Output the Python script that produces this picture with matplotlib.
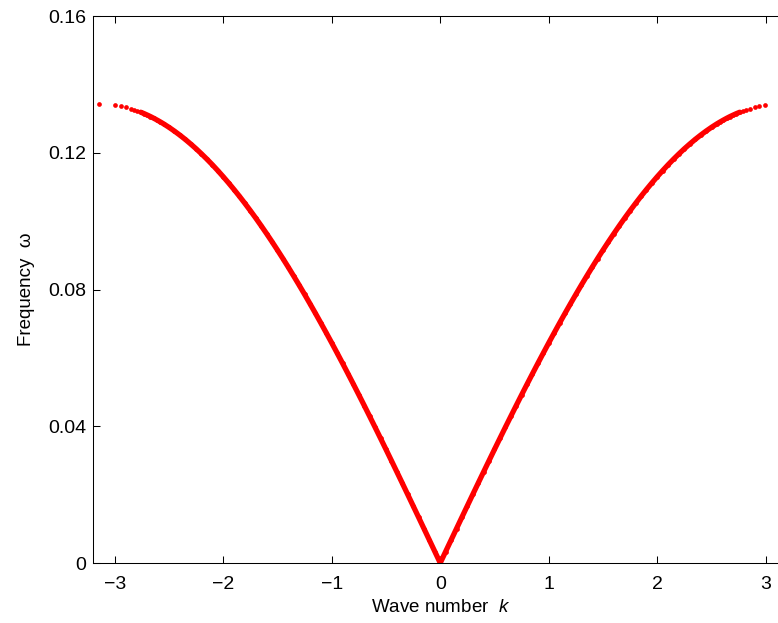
import matplotlib
matplotlib.use("Agg")
import matplotlib.pyplot as plt

plt.rcParams["font.family"] = ["Liberation Sans", "DejaVu Sans"]
plt.rcParams["mathtext.fontset"] = "custom"
plt.rcParams["mathtext.it"] = "Liberation Sans:italic"
plt.rcParams["mathtext.rm"] = "Liberation Sans"

# dispersion points (negative k side, ascending)
k_left = [-3.1416, -2.997, -2.942, -2.896, -2.851, -2.82, -2.79, -2.76, -2.73, -2.70,
          -2.67, -2.64, -2.61, -2.58, -2.55, -2.50, -2.45, -2.40, -2.35, -2.30,
          -2.25, -2.20, -2.15, -2.10, -2.05, -2.00, -1.95, -1.90, -1.85, -1.80,
          -1.75, -1.70, -1.65, -1.60, -1.55, -1.50, -1.45, -1.40, -1.35, -1.30,
          -1.25, -1.20, -1.15, -1.10, -1.05, -1.00, -0.95, -0.90, -0.85, -0.80,
          -0.75, -0.70, -0.65, -0.60, -0.55, -0.50, -0.45, -0.40, -0.35, -0.30,
          -0.25, -0.20, -0.15, -0.10, -0.05]
w_left = [0.1343, 0.13395, 0.13364, 0.13330, 0.13289, 0.13257, 0.13223, 0.13186, 0.13147, 0.13104,
          0.13059, 0.13010, 0.12958, 0.12904, 0.12847, 0.12745, 0.12635, 0.12517, 0.12392, 0.12258,
          0.12118, 0.11969, 0.11813, 0.11650, 0.11479, 0.11301, 0.11116, 0.10924, 0.10726, 0.10520,
          0.10308, 0.10090, 0.09865, 0.09634, 0.09397, 0.09154, 0.08906, 0.08652, 0.08392, 0.08128,
          0.07858, 0.07583, 0.07304, 0.07020, 0.06731, 0.06439, 0.06142, 0.05842, 0.05537, 0.05230,
          0.04919, 0.04605, 0.04288, 0.03969, 0.03647, 0.03323, 0.02996, 0.02668, 0.02338, 0.02007,
          0.01674, 0.01341, 0.01006, 0.00671, 0.00336]

# k >= 0 side, ascending
k_right = [0.0, 0.05, 0.10, 0.15, 0.20, 0.25, 0.30, 0.35, 0.40, 0.45,
           0.50, 0.55, 0.60, 0.65, 0.70, 0.75, 0.80, 0.85, 0.90, 0.95,
           1.00, 1.05, 1.10, 1.15, 1.20, 1.25, 1.30, 1.35, 1.40, 1.45,
           1.50, 1.55, 1.60, 1.65, 1.70, 1.75, 1.80, 1.85, 1.90, 1.95,
           2.00, 2.05, 2.10, 2.15, 2.20, 2.25, 2.30, 2.35, 2.40, 2.45,
           2.50, 2.55, 2.58, 2.61, 2.64, 2.67, 2.70, 2.73, 2.76, 2.79,
           2.82, 2.851, 2.896, 2.942, 2.997]
w_right = [0.0, 0.00336, 0.00671, 0.01006, 0.01341, 0.01674, 0.02007, 0.02338, 0.02668, 0.02996,
           0.03323, 0.03647, 0.03969, 0.04288, 0.04605, 0.04919, 0.05230, 0.05537, 0.05842, 0.06142,
           0.06439, 0.06731, 0.07020, 0.07304, 0.07583, 0.07858, 0.08128, 0.08392, 0.08652, 0.08906,
           0.09154, 0.09397, 0.09634, 0.09865, 0.10090, 0.10308, 0.10520, 0.10726, 0.10924, 0.11116,
           0.11301, 0.11479, 0.11650, 0.11813, 0.11969, 0.12118, 0.12258, 0.12392, 0.12517, 0.12635,
           0.12745, 0.12847, 0.12904, 0.12958, 0.13010, 0.13059, 0.13104, 0.13147, 0.13186, 0.13223,
           0.13257, 0.13289, 0.13330, 0.13364, 0.13395]

k_all = k_left + k_right
w_all = w_left + w_right

fig = plt.figure(figsize=(7.78, 6.23), dpi=100)
ax = fig.add_axes([0.1195, 0.0963, 0.8927, 0.878])

# dense middle part reads as a solid band of dots
inner = [i for i, k in enumerate(k_all) if abs(k) <= 2.76]
ax.plot([k_all[i] for i in inner], [w_all[i] for i in inner], "-", color="red", lw=3.8,
        solid_capstyle="round")
ax.plot(k_all, w_all, "o", color="red", ms=3.4, mec="none")

ax.set_xlim(-3.2, 3.2)
ax.set_ylim(0, 0.16)
ax.set_xticks([-3, -2, -1, 0, 1, 2, 3])
ax.set_yticks([0, 0.04, 0.08, 0.12, 0.16])
ax.set_yticklabels(["0", "0.04", "0.08", "0.12", "0.16"])
ax.tick_params(direction="in", length=5, width=0.75, top=True, right=True,
               labelsize=14, colors="black")
ax.tick_params(axis="x", pad=9)
ax.tick_params(axis="y", pad=5)
for s in ax.spines.values():
    s.set_linewidth(0.75)

ax.set_xlabel("Wave number  $k$", fontsize=13.5, labelpad=5)
ax.set_ylabel("Frequency  ω", fontsize=13.5, labelpad=9)

fig.savefig("out.png", dpi=100)
